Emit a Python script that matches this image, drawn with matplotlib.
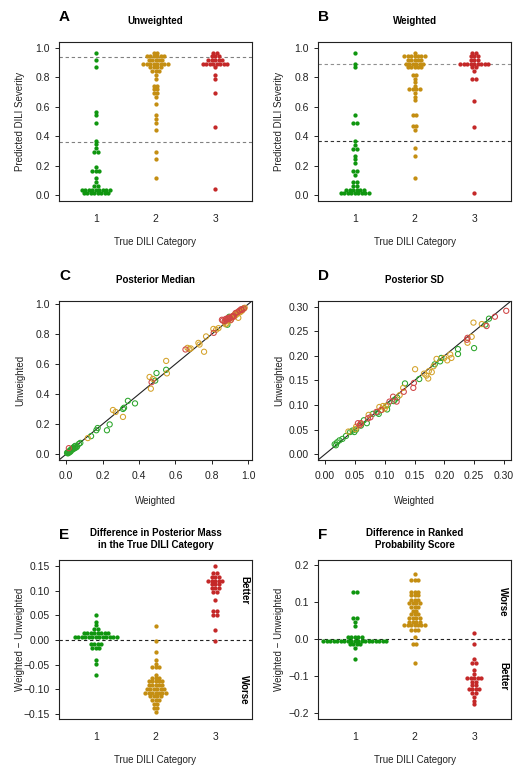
import matplotlib
matplotlib.use('Agg')
import matplotlib.pyplot as plt
import numpy as np

plt.rcParams['font.family'] = ['Liberation Sans', 'DejaVu Sans']

# ---------------- data ----------------
categories = [1, 2, 3]
category_labels = ['1', '2', '3']

# Panel A: unweighted predicted severity (posterior median)
A_cat1 = [0.966, 0.917, 0.868, 0.566, 0.544, 0.492, 0.369, 0.347, 0.320, 0.291, 0.291,
          0.190, 0.166, 0.166, 0.166, 0.116, 0.089, 0.062, 0.062,
          0.038, 0.038, 0.038, 0.038, 0.038, 0.038, 0.038, 0.038, 0.038,
          0.011, 0.011, 0.011, 0.011, 0.011, 0.011, 0.011, 0.011]
A_cat2 = [0.966, 0.966, 0.944, 0.944, 0.944, 0.944, 0.944, 0.944,
          0.917, 0.917, 0.917, 0.917, 0.917,
          0.893, 0.893, 0.893, 0.893, 0.893, 0.893, 0.893, 0.893,
          0.868, 0.868, 0.868, 0.868, 0.843, 0.843, 0.843, 0.816, 0.792,
          0.743, 0.743, 0.718, 0.718, 0.693, 0.693, 0.666, 0.617,
          0.541, 0.515, 0.492, 0.441, 0.291, 0.242, 0.116]
A_cat3 = [0.966, 0.966, 0.944, 0.944, 0.944, 0.917, 0.917, 0.917, 0.917, 0.917,
          0.893, 0.893, 0.893, 0.893, 0.893, 0.893, 0.893, 0.893,
          0.868, 0.816, 0.792, 0.691, 0.465, 0.040]
A_cutoffs = [0.935, 0.362]

# Panel B: weighted predicted severity
B_cat1 = [0.966, 0.893, 0.868, 0.544, 0.492, 0.492, 0.369, 0.342, 0.315, 0.315,
          0.268, 0.244, 0.217, 0.166, 0.166, 0.139, 0.092, 0.092, 0.065, 0.065,
          0.038, 0.038, 0.038, 0.038, 0.038, 0.038,
          0.011, 0.011, 0.011, 0.011, 0.011, 0.011, 0.011, 0.011, 0.011]
B_cat2 = [0.966, 0.944, 0.944, 0.944, 0.944, 0.944, 0.944, 0.944,
          0.917, 0.917, 0.917, 0.917, 0.917,
          0.893, 0.893, 0.893, 0.893, 0.893, 0.893,
          0.868, 0.868, 0.868, 0.868, 0.868, 0.816, 0.816, 0.792, 0.768, 0.743,
          0.718, 0.718, 0.718, 0.718, 0.692, 0.668, 0.643,
          0.544, 0.544, 0.468, 0.468, 0.441, 0.317, 0.266, 0.116]
B_cat3 = [0.966, 0.966, 0.944, 0.944, 0.944, 0.917, 0.917, 0.917,
          0.893, 0.893, 0.893, 0.893, 0.893, 0.893, 0.893, 0.893, 0.893,
          0.868, 0.868, 0.843, 0.792, 0.792, 0.641, 0.465, 0.014]
B_cutoffs = [0.893, 0.369]

# Panel C: posterior median, weighted (x) vs unweighted (y)
C_w1 = [0.005, 0.008, 0.010, 0.012, 0.015, 0.018, 0.020, 0.022, 0.025, 0.028, 0.030, 0.035,
        0.038, 0.040, 0.045, 0.048, 0.050, 0.055, 0.060, 0.070, 0.078, 0.137, 0.166, 0.173,
        0.224, 0.239, 0.312, 0.318, 0.339, 0.378, 0.489, 0.496, 0.549, 0.885, 0.895, 0.970]
C_u1 = [0.008, 0.012, 0.005, 0.015, 0.010, 0.020, 0.014, 0.025, 0.018, 0.030, 0.035, 0.030,
        0.042, 0.035, 0.050, 0.040, 0.055, 0.045, 0.050, 0.068, 0.075, 0.120, 0.159, 0.174,
        0.159, 0.198, 0.301, 0.309, 0.355, 0.338, 0.490, 0.540, 0.562, 0.862, 0.915, 0.968]
C_w2 = [0.119, 0.257, 0.272, 0.312, 0.458, 0.465, 0.476, 0.549, 0.553, 0.666, 0.684, 0.676,
        0.726, 0.732, 0.757, 0.768, 0.808, 0.823, 0.836, 0.870, 0.875, 0.880, 0.885, 0.890,
        0.895, 0.900, 0.905, 0.910, 0.915, 0.920, 0.925, 0.930, 0.935, 0.940, 0.945, 0.945,
        0.950, 0.955, 0.960, 0.965, 0.970, 0.975, 0.980]
C_u2 = [0.107, 0.294, 0.281, 0.248, 0.514, 0.436, 0.501, 0.621, 0.538, 0.708, 0.704, 0.700,
        0.741, 0.730, 0.682, 0.784, 0.834, 0.828, 0.839, 0.880, 0.865, 0.870, 0.890, 0.895,
        0.900, 0.890, 0.910, 0.915, 0.920, 0.920, 0.930, 0.925, 0.940, 0.935, 0.908, 0.945,
        0.950, 0.945, 0.960, 0.955, 0.965, 0.970, 0.975]
C_w3 = [0.015, 0.469, 0.655, 0.810, 0.855, 0.860, 0.870, 0.875, 0.880, 0.885, 0.890, 0.895,
        0.900, 0.905, 0.910, 0.915, 0.920, 0.930, 0.940, 0.950, 0.960, 0.965, 0.975]
C_u3 = [0.040, 0.479, 0.697, 0.808, 0.895, 0.890, 0.885, 0.900, 0.895, 0.905, 0.900, 0.910,
        0.905, 0.895, 0.915, 0.920, 0.915, 0.940, 0.945, 0.955, 0.965, 0.960, 0.970]

# Panel D: posterior SD, weighted (x) vs unweighted (y)
D_w1 = [0.016, 0.018, 0.020, 0.024, 0.029, 0.035, 0.042, 0.046, 0.049, 0.052, 0.060, 0.065,
        0.070, 0.080, 0.088, 0.090, 0.104, 0.105, 0.115, 0.117, 0.121, 0.134, 0.158, 0.184,
        0.193, 0.195, 0.223, 0.223, 0.250, 0.269, 0.275]
D_u1 = [0.020, 0.018, 0.024, 0.028, 0.031, 0.037, 0.045, 0.048, 0.045, 0.050, 0.058, 0.069,
        0.063, 0.082, 0.085, 0.082, 0.091, 0.100, 0.108, 0.111, 0.115, 0.144, 0.153, 0.183,
        0.189, 0.196, 0.214, 0.204, 0.216, 0.264, 0.276]
D_w2 = [0.039, 0.051, 0.052, 0.060, 0.073, 0.091, 0.095, 0.097, 0.100, 0.102, 0.125, 0.131,
        0.151, 0.166, 0.170, 0.173, 0.174, 0.179, 0.182, 0.187, 0.200, 0.205, 0.210, 0.212,
        0.239, 0.246, 0.249, 0.263]
D_u2 = [0.046, 0.051, 0.056, 0.062, 0.080, 0.096, 0.090, 0.098, 0.093, 0.098, 0.120, 0.135,
        0.173, 0.164, 0.160, 0.154, 0.169, 0.167, 0.179, 0.194, 0.196, 0.191, 0.203, 0.196,
        0.227, 0.239, 0.268, 0.265]
D_w3 = [0.055, 0.058, 0.060, 0.072, 0.076, 0.086, 0.094, 0.108, 0.114, 0.120, 0.132, 0.148,
        0.149, 0.238, 0.239, 0.271, 0.285, 0.304]
D_u3 = [0.063, 0.059, 0.063, 0.073, 0.075, 0.086, 0.090, 0.107, 0.117, 0.107, 0.127, 0.135,
        0.145, 0.233, 0.237, 0.261, 0.280, 0.292]

# Panel E: difference in posterior mass in the true category (weighted - unweighted)
E_cat1 = [0.051, 0.037, 0.030, 0.022, 0.022,
          0.0135, 0.0135, 0.0135, 0.0135, 0.0135, 0.0135, 0.0135, 0.0135,
          0.006, 0.006, 0.006, 0.006, 0.006, 0.006, 0.006, 0.006, 0.006, 0.006, 0.006, 0.006, 0.006,
          -0.009, -0.009, -0.009, -0.009, -0.017, -0.017, -0.017, -0.040, -0.048, -0.070]
E_cat2 = [0.028, -0.003, -0.025, -0.040, -0.048, -0.055, -0.055, -0.055, -0.070,
          -0.077, -0.077, -0.077, -0.084, -0.084, -0.084, -0.084, -0.084,
          -0.092, -0.092, -0.092, -0.092, -0.092,
          -0.099, -0.099, -0.099, -0.099, -0.099, -0.099,
          -0.107, -0.107, -0.107, -0.107, -0.107, -0.107, -0.107,
          -0.114, -0.114, -0.114, -0.114, -0.122, -0.122, -0.122,
          -0.130, -0.130, -0.137, -0.137, -0.145]
E_cat3 = [0.150, 0.135, 0.135, 0.128, 0.128, 0.128, 0.120, 0.120, 0.120, 0.120, 0.120,
          0.113, 0.113, 0.113, 0.105, 0.105, 0.105, 0.097, 0.097, 0.082,
          0.059, 0.059, 0.051, 0.051, 0.021, -0.003]

# Panel F: difference in ranked probability score (weighted - unweighted)
F_cat1 = [0.127, 0.127, 0.057, 0.057, 0.045, 0.035, 0.007, 0.007, 0.007, 0.007, 0.007,
          -0.004, -0.004, -0.004, -0.004, -0.004, -0.004, -0.004, -0.004, -0.004, -0.004,
          -0.004, -0.004, -0.004, -0.004, -0.004, -0.004, -0.004, -0.004, -0.004,
          -0.014, -0.014, -0.014, -0.014, -0.024, -0.054]
F_cat2 = [0.177, 0.159, 0.159, 0.159, 0.127, 0.127, 0.127, 0.118, 0.118, 0.118,
          0.107, 0.107, 0.107, 0.097, 0.097, 0.097, 0.097, 0.087, 0.087, 0.087,
          0.077, 0.077, 0.067, 0.067, 0.067, 0.057, 0.057, 0.057, 0.057,
          0.047, 0.047, 0.047, 0.047, 0.037, 0.037, 0.037, 0.037, 0.037, 0.037, 0.037,
          0.026, 0.026, 0.026, 0.006, -0.014, -0.014, -0.064]
F_cat3 = [0.016, -0.014, -0.054, -0.065, -0.065, -0.084, -0.095,
          -0.105, -0.105, -0.105, -0.105, -0.105, -0.115, -0.115, -0.125, -0.125,
          -0.135, -0.135, -0.135, -0.135, -0.146, -0.146, -0.156, -0.166, -0.176]

# ---------------- style ----------------
dot_colors = ['#0f960f', '#c48e12', '#c42828']
ring_colors = ['#2aa52a', '#d4a22a', '#d04545']

fig = plt.figure(figsize=(5.19, 7.78), dpi=100)
W, H = 519.0, 778.0
col_left = [59 / W, 318 / W]
row_bottom = [1 - 201 / H, 1 - 460 / H, 1 - 719 / H]
aw, ah = 193 / W, 159 / H
axes = {}
letters = ['A', 'B', 'C', 'D', 'E', 'F']
for r in range(3):
    for c in range(2):
        axes[letters[r * 2 + c]] = fig.add_axes([col_left[c], row_bottom[r], aw, ah])


def frame(ax, letter, title, xlabel, ylabel):
    for sp in ax.spines.values():
        sp.set_linewidth(0.8)
        sp.set_color('#222222')
    ax.tick_params(axis='y', length=3, width=0.7, labelsize=7.5, pad=3.5, colors='#222222')
    ax.text(0.0, 1 + 25 / 159, letter, transform=ax.transAxes, fontsize=11,
            fontweight='bold', ha='left', va='center')
    ax.text(0.5, 1 + 21 / 159, title, transform=ax.transAxes, fontsize=7,
            fontweight='bold', ha='center', va='center', linespacing=1.25)
    ax.text(0.5, -41 / 159, xlabel, transform=ax.transAxes, fontsize=7,
            ha='center', va='center', color='#222222')
    ax.text(-39 / 193, 0.5, ylabel, transform=ax.transAxes, fontsize=7, rotation=90,
            ha='center', va='center', color='#222222')


def beeswarm(ax, groups, dx):
    for i, (vals, col) in enumerate(zip(groups, dot_colors)):
        vals = np.asarray(vals, dtype=float)
        keys = np.round(vals, 4)
        for k in np.unique(keys):
            v = vals[keys == k]
            n = len(v)
            offs = (np.arange(n) - (n - 1) / 2.0) * dx
            ax.scatter(categories[i] + offs, v, s=9.5, color=col, linewidths=0, zorder=3)
    ax.set_xlim(0.38, 3.62)
    ax.set_xticks(categories)
    ax.set_xticklabels(category_labels)
    ax.tick_params(axis='x', length=0, labelsize=7.5, pad=9, colors='#222222')


dx = 3.5 / 59.6

# A
ax = axes['A']
beeswarm(ax, [A_cat1, A_cat2, A_cat3], dx)
ax.set_ylim(-0.04, 1.04)
ax.set_yticks([0, 0.2, 0.4, 0.6, 0.8, 1.0])
ax.set_yticklabels(['0.0', '0.2', '0.4', '0.6', '0.8', '1.0'])
for yv in A_cutoffs:
    ax.axhline(yv, color='#808080', lw=0.8, ls=(0, (3, 2.5)), zorder=2)
frame(ax, 'A', 'Unweighted', 'True DILI Category', 'Predicted DILI Severity')

# B
ax = axes['B']
beeswarm(ax, [B_cat1, B_cat2, B_cat3], dx)
ax.set_ylim(-0.04, 1.04)
ax.set_yticks([0, 0.2, 0.4, 0.6, 0.8, 1.0])
ax.set_yticklabels(['0.0', '0.2', '0.4', '0.6', '0.8', '1.0'])
ax.axhline(B_cutoffs[0], color='#909090', lw=0.8, ls=(0, (3, 2.5)), zorder=2)
ax.axhline(B_cutoffs[1], color='#333333', lw=0.8, ls=(0, (3, 2.5)), zorder=2)
frame(ax, 'B', 'Weighted', 'True DILI Category', 'Predicted DILI Severity')

# C
ax = axes['C']
for xs, ys, col in zip([C_w1, C_w2, C_w3], [C_u1, C_u2, C_u3], ring_colors):
    ax.scatter(xs, ys, s=14, facecolors='none', edgecolors=col, linewidths=0.75, zorder=3)
ax.plot([-1, 2], [-1, 2], color='#222222', lw=0.8, zorder=2)
ax.set_xlim(-0.039, 1.02)
ax.set_ylim(-0.039, 1.02)
ticks = [0, 0.2, 0.4, 0.6, 0.8, 1.0]
ax.set_xticks(ticks)
ax.set_xticklabels(['0.0', '0.2', '0.4', '0.6', '0.8', '1.0'])
ax.set_yticks(ticks)
ax.set_yticklabels(['0.0', '0.2', '0.4', '0.6', '0.8', '1.0'])
ax.tick_params(axis='x', length=3, width=0.7, labelsize=7.5, pad=5, colors='#222222')
frame(ax, 'C', 'Posterior Median', 'Weighted', 'Unweighted')

# D
ax = axes['D']
for xs, ys, col in zip([D_w1, D_w2, D_w3], [D_u1, D_u2, D_u3], ring_colors):
    ax.scatter(xs, ys, s=14, facecolors='none', edgecolors=col, linewidths=0.75, zorder=3)
ax.plot([-1, 2], [-1, 2], color='#222222', lw=0.8, zorder=2)
ax.set_xlim(-0.012, 0.312)
ax.set_ylim(-0.012, 0.312)
dt = [0, 0.05, 0.10, 0.15, 0.20, 0.25, 0.30]
dl = ['0.00', '0.05', '0.10', '0.15', '0.20', '0.25', '0.30']
ax.set_xticks(dt)
ax.set_xticklabels(dl)
ax.set_yticks(dt)
ax.set_yticklabels(dl)
ax.tick_params(axis='x', length=3, width=0.7, labelsize=7.5, pad=5, colors='#222222')
frame(ax, 'D', 'Posterior SD', 'Weighted', 'Unweighted')

# E
ax = axes['E']
beeswarm(ax, [E_cat1, E_cat2, E_cat3], dx)
ax.set_ylim(-0.16, 0.162)
et = [-0.15, -0.10, -0.05, 0.0, 0.05, 0.10, 0.15]
ax.set_yticks(et)
ax.set_yticklabels(['\u22120.15', '\u22120.10', '\u22120.05', '0.00', '0.05', '0.10', '0.15'])
ax.axhline(0, color='#222222', lw=0.8, ls=(0, (3, 2.5)), zorder=2)
ax.text(3.49, 0.10, 'Better', rotation=-90, ha='center', va='center', fontsize=7, fontweight='bold')
ax.text(3.49, -0.10, 'Worse', rotation=-90, ha='center', va='center', fontsize=7, fontweight='bold')
frame(ax, 'E', 'Difference in Posterior Mass\nin the True DILI Category',
      'True DILI Category', 'Weighted \u2212 Unweighted')

# F
ax = axes['F']
beeswarm(ax, [F_cat1, F_cat2, F_cat3], dx)
ax.set_ylim(-0.216, 0.214)
ft = [-0.2, -0.1, 0.0, 0.1, 0.2]
ax.set_yticks(ft)
ax.set_yticklabels(['\u22120.2', '\u22120.1', '0.0', '0.1', '0.2'])
ax.axhline(0, color='#222222', lw=0.8, ls=(0, (3, 2.5)), zorder=2)
ax.text(3.49, 0.10, 'Worse', rotation=-90, ha='center', va='center', fontsize=7, fontweight='bold')
ax.text(3.49, -0.10, 'Better', rotation=-90, ha='center', va='center', fontsize=7, fontweight='bold')
frame(ax, 'F', 'Difference in Ranked\nProbability Score',
      'True DILI Category', 'Weighted \u2212 Unweighted')

fig.savefig('out.png', dpi=100)
